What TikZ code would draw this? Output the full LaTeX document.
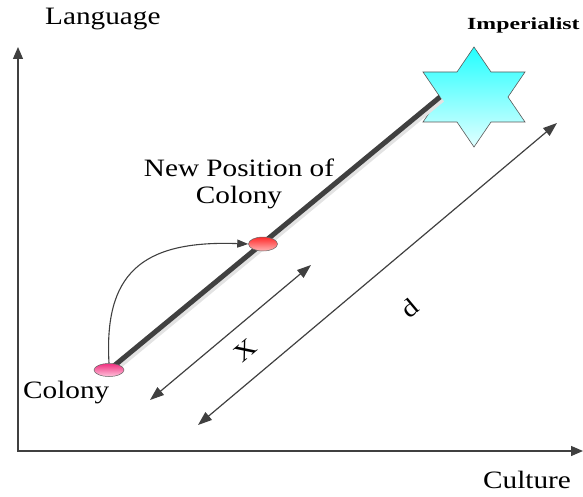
\documentclass[tikz,border=0pt]{standalone}
\usepackage{fontspec}
\setmainfont{Liberation Serif}
\newfontfamily\lab[FakeStretch=1.17]{Liberation Serif}
\newfontfamily\impfont[FakeStretch=1.4]{Liberation Serif}
\usetikzlibrary{arrows.meta,shapes.geometric}
\definecolor{dgray}{HTML}{404040}
\definecolor{startop}{HTML}{22FFFF}
\definecolor{starbot}{HTML}{E2FFFF}
\definecolor{pinktop}{HTML}{F0307F}
\definecolor{pinkbot}{HTML}{FFC4DC}
\definecolor{redtop}{HTML}{FF2A2A}
\definecolor{redbot}{HTML}{FFB4B4}
\tikzset{
  axis/.style={draw=dgray, line width=1.3pt, -{Triangle[length=12pt,width=10pt]}},
  dim/.style={draw=dgray, line width=1.2pt, {Triangle[length=14pt,width=10pt]}-{Triangle[length=14pt,width=10pt]}},
  lbl/.style={font=\lab\fontsize{25}{27}\selectfont, inner sep=0pt},
  blob/.style={ellipse, draw=gray!80!black, line width=0.5pt, inner sep=0pt}
}
\begin{document}
\begin{tikzpicture}[x=1pt,y=-1pt]
\useasboundingbox (0,0) rectangle (583,497);
% axes
\coordinate (o) at (18,451);
\coordinate (ytop) at (18,47);
\coordinate (xend) at (583,451);
\draw[axis] (o) -- (ytop);
\draw[axis] ([xshift=-0.65pt]o) -- (xend);
\node[lbl, anchor=base west] (lang) at (45,25) {Language};
\node[lbl, anchor=base west] (cult) at (483,488) {Culture};
% star
\coordinate (notch) at (440,97);
\path[top color=startop, bottom color=starbot, draw=gray!70!black, line width=0.6pt]
  (474,47) -- (491,72) -- (525,72) -- (508,97) -- (525,122) -- (491,122)
  -- (474,147) -- (457,122) -- (423,122) -- (440,97) -- (423,72) -- (457,72) -- cycle;
\node[font=\impfont\bfseries\fontsize{17}{19}\selectfont, anchor=base west, inner sep=0pt] (imp) at (467,30) {Imperialist};
% colonies
\coordinate (c0pos) at (109,370);
\coordinate (c1pos) at (263,244);
% thick line with shadow
\draw[line width=5pt, gray!22] ([shift={(2.5,2.5)}]c0pos) -- ([shift={(2.5,2.5)}]notch);
\draw[line width=5pt, dgray] (c0pos) -- (notch);
\node[blob, minimum width=30pt, minimum height=13pt, top color=pinktop, bottom color=pinkbot] (c0) at (c0pos) {};
\node[blob, minimum width=29pt, minimum height=14pt, top color=redtop, bottom color=redbot] (c1) at (c1pos) {};
% curved move arrow
\draw[dgray, line width=1.1pt, -{Triangle[length=11pt,width=8pt]}] (c0.north) .. controls (104,275) and (140,240) .. (c1.west);
\node[lbl, anchor=base west] (colab) at (23,398) {Colony};
\node[lbl, align=center] (newlab) at (239,184) {New Position of\\Colony};
% distance arrows
\coordinate (xa) at (150,400);
\coordinate (xb) at (311,265);
\draw[dim] (xa) -- (xb);
\node[lbl, rotate=40] (xl) at (245,350) {X};
\coordinate (da) at (198,425);
\coordinate (db) at (557,123);
\draw[dim] (da) -- (db);
\node[lbl, rotate=40] (dl) at (410,308) {d};
\end{tikzpicture}
\end{document}
